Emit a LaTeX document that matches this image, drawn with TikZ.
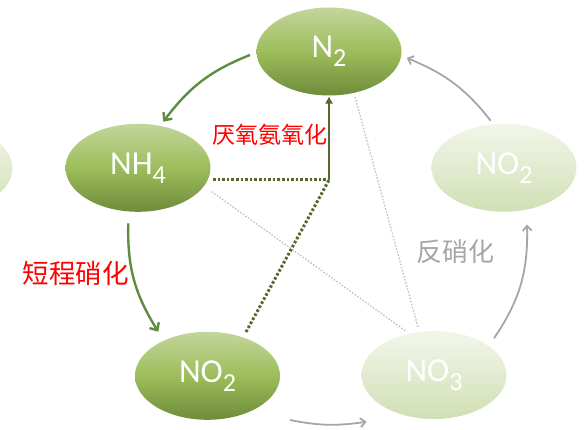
\documentclass[tikz,border=0pt]{standalone}
\usepackage{fontspec}
\setmainfont{Carlito}
\newfontfamily\cjk{Noto Sans CJK SC}
\usetikzlibrary{arrows.meta,calc,shapes.geometric,bending}
\definecolor{gTop}{HTML}{C2D69B}
\definecolor{gMid}{HTML}{9DBD5B}
\definecolor{gBot}{HTML}{6E8C3A}
\definecolor{lTop}{HTML}{F2F6EA}
\definecolor{lMid}{HTML}{E2EBD0}
\definecolor{lBot}{HTML}{D0DFB3}
\definecolor{arrGreen}{HTML}{5F8C41}
\definecolor{arrDark}{HTML}{55692D}
\definecolor{arrGrey}{HTML}{A6A6A6}
\definecolor{dotGrey}{HTML}{BEBEBE}
\newcommand\chemtxt[2]{#1\raisebox{-9pt}{\fontsize{26}{26}\selectfont #2}}
\tikzset{
  blob/.style={ellipse, minimum width=145pt, minimum height=88pt, inner sep=0pt,
    text=white, font=\fontsize{33.5}{33.5}\selectfont},
  darkblob/.style={blob, top color=gTop, bottom color=gBot, middle color=gMid},
  lightblob/.style={blob, top color=lTop, bottom color=lBot, middle color=lMid},
  greenarrow/.style={draw=arrGreen, line width=2.4pt, -{Straight Barb[length=6pt,width=11pt]}},
  greyarrow/.style={draw=arrGrey, line width=1.8pt, -{Straight Barb[length=5pt,width=9pt]}},
  darkdots/.style={draw=arrDark, line width=3pt, dash pattern=on 2.6pt off 2pt},
  greydots/.style={draw=dotGrey, line width=1.3pt, dash pattern=on 1.5pt off 1.7pt},
  redlabel/.style={text=red, inner sep=0pt},
}
\begin{document}
\begin{tikzpicture}[x=1pt,y=1pt]
\useasboundingbox (0,0) rectangle (584,429);
\clip (0,0) rectangle (584,429);
% nodes
\node[lightblob] (left) at (-60,261) {};
\node[darkblob] (n2) at (329,377.5) {\chemtxt{N}{2}};
\node[darkblob] (nh4) at (138,261.2) {\chemtxt{NH}{4}};
\node[darkblob] (no2) at (207.5,53.2) {\chemtxt{NO}{2}};
\node[lightblob] (no3) at (434,54) {\chemtxt{NO}{3}};
\node[lightblob] (no2r) at (504,261.3) {\chemtxt{NO}{2}};
% grey dotted guide lines
\draw[greydots] ($(nh4.center)+(73.7,-23.9)$) -- ($(no3.center)+(-27.3,43.3)$);
\draw[greydots] ($(n2.center)+(26,-45.5)$) -- ($(no3.center)+(-15.7,46.7)$);
% anammox
\coordinate (corner) at ($(n2.center)+(0,-128.5)$);
\draw[darkdots] ($(nh4.center)+(75,-12.2)$) -- (corner);
\draw[darkdots] ($(no2.center)+(38.5,43.8)$) -- (corner);
\draw[draw=arrDark, line width=2.4pt, -{Triangle[length=7pt,width=7pt]}] (corner) -- ($(n2.south)+(0,-1)$);
% cycle arrows
\draw[greenarrow] ($(n2.center)+(-79,-3.5)$) to[bend right=16] ($(nh4.center)+(25.3,46.1)$);
\draw[greenarrow] ($(nh4.center)+(-9.7,-55.5)$) to[bend right=17] ($(no2.center)+(-49.2,44.1)$);
\draw[greyarrow] ($(no2.center)+(82.5,-44.2)$) to[bend right=10] ($(no3.center)+(-67.3,-46.7)$);
\draw[greyarrow] ($(no3.center)+(60,36.7)$) to[bend right=18] ($(no2r.center)+(23,-56.8)$);
\draw[greyarrow] ($(no2r.center)+(-13.3,47)$) to[bend right=15] ($(n2.center)+(77.7,-6.5)$);
% labels
\node[redlabel, font=\cjk\fontsize{23}{23}\selectfont] (lab1) at (270,294) {厌氧氨氧化};
\node[redlabel, font=\cjk\fontsize{26.5}{26.5}\selectfont] (lab2) at (76,156) {短程硝化};
\node[text=arrGrey, inner sep=0pt, font=\cjk\fontsize{26}{26}\selectfont] (lab3) at (455,177) {反硝化};
\end{tikzpicture}
\end{document}
